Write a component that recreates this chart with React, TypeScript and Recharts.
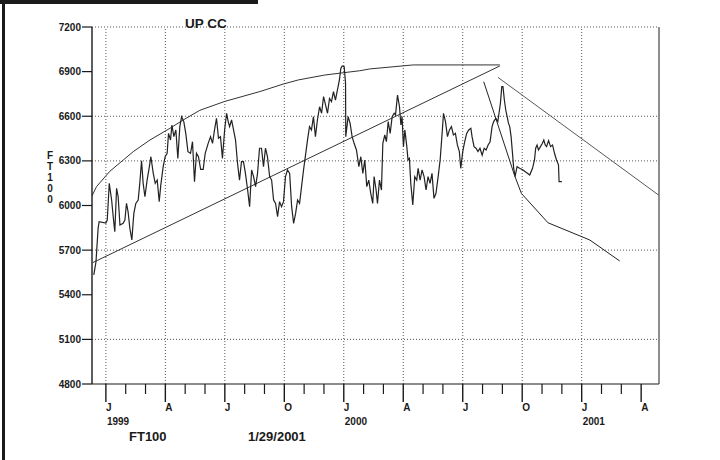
import React from "react";
import {
  LineChart,
  Line,
  XAxis,
  YAxis,
  ReferenceLine,
} from "recharts";

// x = months since Jan 1999, y = FT100 index level
const FT100_SERIES: [number, number][] = [
  [-0.61, 5533], [-0.5, 5620], [-0.39, 5849], [-0.34, 5891], [0, 5882], [0.07, 5902], [0.17, 6149],
  [0.29, 6037], [0.37, 5925], [0.45, 5824], [0.54, 6115], [0.62, 6059], [0.71, 5869], [0.87, 5880],
  [0.96, 5902], [1.04, 6014], [1.12, 5958], [1.21, 5846], [1.31, 5768], [1.41, 5947], [1.51, 6014],
  [1.63, 6037], [1.71, 6149], [1.8, 6301], [1.88, 6149], [1.97, 6059], [2.08, 6171], [2.18, 6250],
  [2.27, 6328], [2.39, 6216], [2.49, 6149], [2.59, 6171], [2.69, 6026], [2.77, 6137], [2.89, 6261],
  [2.99, 6328], [3.09, 6351], [3.16, 6485], [3.26, 6440], [3.33, 6541], [3.43, 6463], [3.53, 6508],
  [3.63, 6317], [3.73, 6530], [3.82, 6597], [3.93, 6564], [4.03, 6485], [4.14, 6362], [4.27, 6351],
  [4.37, 6429], [4.47, 6160], [4.57, 6351], [4.67, 6328], [4.78, 6243], [4.91, 6243], [5.01, 6351],
  [5.16, 6418], [5.28, 6463], [5.38, 6418], [5.48, 6508], [5.58, 6586], [5.68, 6452], [5.78, 6463],
  [5.88, 6317], [5.99, 6508], [6.09, 6620], [6.17, 6564], [6.24, 6530], [6.34, 6575], [6.44, 6508],
  [6.54, 6440], [6.64, 6284], [6.74, 6171], [6.84, 6295], [6.94, 6295], [7.04, 6216], [7.15, 6104],
  [7.25, 5992], [7.35, 6239], [7.45, 6194], [7.55, 6127], [7.65, 6216], [7.75, 6385], [7.85, 6385],
  [7.95, 6261], [8.05, 6385], [8.15, 6328], [8.26, 6194], [8.36, 6171], [8.46, 6037], [8.56, 6014],
  [8.66, 5925], [8.76, 6026], [8.86, 5992], [8.96, 6026], [9.06, 6194], [9.16, 6239], [9.27, 6216],
  [9.37, 5992], [9.47, 5880], [9.57, 5947], [9.67, 6037], [9.77, 6014], [9.87, 6127], [9.97, 6239],
  [10.07, 6339], [10.17, 6440], [10.27, 6530], [10.37, 6508], [10.47, 6597], [10.57, 6463],
  [10.67, 6575], [10.78, 6664], [10.88, 6620], [10.98, 6732], [11.08, 6676], [11.18, 6620],
  [11.28, 6720], [11.38, 6698], [11.48, 6766], [11.58, 6709], [11.68, 6777], [11.78, 6844],
  [11.85, 6922], [11.92, 6938], [12.02, 6933], [12.09, 6821], [12.1, 6463], [12.22, 6597],
  [12.32, 6552], [12.42, 6463], [12.52, 6418], [12.64, 6373], [12.76, 6261], [12.86, 6328],
  [12.96, 6216], [13.06, 6306], [13.16, 6127], [13.26, 6171], [13.36, 6082], [13.46, 6014],
  [13.53, 6194], [13.63, 6104], [13.7, 6014], [13.8, 6171], [13.9, 6104], [13.97, 6418],
  [14.07, 6474], [14.15, 6429], [14.24, 6564], [14.34, 6485], [14.44, 6597], [14.54, 6620],
  [14.61, 6609], [14.71, 6743], [14.81, 6664], [14.88, 6541], [14.94, 6597], [15.01, 6396],
  [15.08, 6508], [15.18, 6396], [15.24, 6306], [15.31, 6317], [15.38, 6149], [15.48, 6003],
  [15.58, 6194], [15.68, 6171], [15.75, 6250], [15.85, 6171], [15.95, 6239], [16.05, 6194],
  [16.15, 6104], [16.25, 6194], [16.35, 6149], [16.45, 6216], [16.55, 6048], [16.65, 6082],
  [16.76, 6194], [16.86, 6306], [16.96, 6485], [17.03, 6620], [17.13, 6564], [17.23, 6463],
  [17.33, 6508], [17.43, 6530], [17.53, 6474], [17.63, 6485], [17.73, 6407], [17.83, 6362],
  [17.9, 6250], [18.0, 6362], [18.1, 6429], [18.2, 6485], [18.3, 6508], [18.41, 6519], [18.47, 6463],
  [18.57, 6396], [18.67, 6385], [18.77, 6362], [18.87, 6385], [18.98, 6339], [19.08, 6385],
  [19.18, 6373], [19.28, 6407], [19.38, 6429], [19.48, 6530], [19.56, 6564], [19.67, 6586],
  [19.77, 6564], [19.83, 6620], [19.9, 6687], [19.97, 6799], [20.03, 6799], [20.1, 6709],
  [20.17, 6642], [20.24, 6597], [20.31, 6552], [20.37, 6530], [20.44, 6463], [20.51, 6351],
  [20.57, 6250], [20.64, 6194], [20.74, 6261], [20.87, 6250], [21.04, 6239], [21.21, 6222],
  [21.38, 6205], [21.52, 6250], [21.62, 6306], [21.68, 6385], [21.75, 6407], [21.82, 6373],
  [21.92, 6396], [22.02, 6418], [22.09, 6440], [22.16, 6407], [22.23, 6396], [22.33, 6436],
  [22.43, 6396], [22.53, 6407], [22.63, 6351], [22.73, 6306], [22.83, 6273], [22.86, 6160],
  [23.0, 6160],
];

// hand drawn trend lines
const RISING_LINE: [number, number][] = [[-0.66, 5616], [19.87, 6938]];
const UPPER_ARC: [number, number][] = [
  [-0.7, 6065], [-0.47, 6127], [0.2, 6230], [0.87, 6305], [1.38, 6362], [2.22, 6440], [3.23, 6519],
  [3.9, 6575], [4.74, 6640], [6.0, 6700], [7.77, 6766], [8.96, 6817], [9.7, 6844], [11.04, 6877],
  [12.81, 6906], [13.31, 6918], [15.5, 6945], [19.87, 6945],
];
const FALLING_LINE: [number, number][] = [[19.78, 6861], [27.88, 6070]];
const DOWN_CURVE: [number, number][] = [
  [19.06, 6832], [20.62, 6200], [20.96, 6081], [22.3, 5884], [24.41, 5768], [25.92, 5627],
];

const Y_TICKS = [4800, 5100, 5400, 5700, 6000, 6300, 6600, 6900, 7200];
const Y_GRID = [7200, 6600, 6300, 5700, 5100];
const MONTH_TICKS = Array.from({ length: 28 }, (_, i) => i);
const QUARTER_LETTERS: Record<number, string> = { 0: "J", 3: "A", 6: "J", 9: "O" };
const X_GRID = [0, 3, 6, 9, 12, 15, 18, 21, 24];

const FONT = '"Liberation Sans", Arial, Helvetica, sans-serif';
const INK = "#1a1a1a";

const toRows = (pts: [number, number][]) => pts.map(([m, v]) => ({ m, v }));

function MonthTick(props: any) {
  const { x, y, payload } = props;
  const m = payload.value as number;
  const q = ((m % 12) + 12) % 12;
  const major = q % 3 === 0;
  return (
    <g>
      <line x1={x} y1={y} x2={x} y2={y + (major ? 18 : 10)} stroke={INK} strokeWidth={major ? 1.4 : 1.2} />
      {major && (
        <text x={x} y={y + 27} fontSize={10} fontWeight="bold" fontFamily={FONT} fill={INK}>
          {QUARTER_LETTERS[q]}
        </text>
      )}
      {q === 0 && (
        <text x={x + 1} y={y + 41} fontSize={10} fontWeight="bold" fontFamily={FONT} fill={INK}>
          {1999 + m / 12}
        </text>
      )}
    </g>
  );
}

export default function App() {
  const tickStyle = { fontSize: 10, fontWeight: "bold", fontFamily: FONT, fill: INK };
  return (
    <div style={{ position: "absolute", left: 0, top: 0, width: 720, height: 460, background: "#fff" }}>
      <LineChart width={720} height={460} margin={{ top: 27, right: 11, bottom: 26, left: 42 }}>
        <XAxis
          dataKey="m"
          type="number"
          domain={[-0.7, 27.9]}
          allowDataOverflow
          ticks={MONTH_TICKS}
          interval={0}
          height={50}
          tickSize={0}
          tickMargin={0}
          tickLine={false}
          tick={<MonthTick />}
          axisLine={{ stroke: INK, strokeWidth: 1.2 }}
        />
        <YAxis
          yAxisId="left"
          orientation="left"
          domain={[4800, 7200]}
          ticks={Y_TICKS}
          interval={0}
          width={50}
          tickSize={10}
          tickMargin={1}
          tick={tickStyle}
          tickLine={{ stroke: INK, strokeWidth: 1.2 }}
          axisLine={{ stroke: INK, strokeWidth: 1.4 }}
        />
        <YAxis
          yAxisId="right"
          orientation="right"
          domain={[4800, 7200]}
          ticks={Y_TICKS}
          interval={0}
          width={50}
          tickSize={10}
          tickMargin={2}
          tick={tickStyle}
          tickLine={{ stroke: "#444", strokeWidth: 1.2 }}
          axisLine={{ stroke: "#444", strokeWidth: 1.2 }}
        />
        {Y_GRID.map((v) => (
          <ReferenceLine key={`h${v}`} yAxisId="left" y={v} stroke="#555" strokeDasharray="1 2" />
        ))}
        {X_GRID.map((m) => (
          <ReferenceLine key={`v${m}`} yAxisId="left" x={m} stroke="#555" strokeDasharray="1 2" />
        ))}
        <Line yAxisId="left" data={toRows(UPPER_ARC)} dataKey="v" type="linear" dot={false} stroke="#333" strokeWidth={1} isAnimationActive={false} />
        <Line yAxisId="left" data={toRows(RISING_LINE)} dataKey="v" type="linear" dot={false} stroke="#333" strokeWidth={1} isAnimationActive={false} />
        <Line yAxisId="left" data={toRows(FALLING_LINE)} dataKey="v" type="linear" dot={false} stroke="#444" strokeWidth={0.9} isAnimationActive={false} />
        <Line yAxisId="left" data={toRows(DOWN_CURVE)} dataKey="v" type="linear" dot={false} stroke="#222" strokeWidth={1} isAnimationActive={false} />
        <Line yAxisId="left" data={toRows(FT100_SERIES)} dataKey="v" type="linear" dot={false} stroke="#222" strokeWidth={1.2} isAnimationActive={false} />
      </LineChart>
      <svg width={720} height={460} style={{ position: "absolute", left: 0, top: 0, pointerEvents: "none" }}>
        <rect x={0} y={0} width={258} height={4} fill={INK} />
        <rect x={2} y={0} width={3} height={460} fill={INK} />
        <text x={185} y={28} fontSize={13.5} fontWeight="bold" fontFamily={FONT} fill={INK}>UP CC</text>
        {["F", "T", "1", "0", "0"].map((c, i) => (
          <text key={i} x={50} y={158.5 + i * 11} textAnchor="middle" fontSize={10} fontWeight="bold" fontFamily={FONT} fill={INK}>
            {c}
          </text>
        ))}
        <text x={129} y={441} fontSize={13} fontWeight="bold" fontFamily={FONT} fill={INK}>FT100</text>
        <text x={248} y={441} fontSize={13} fontWeight="bold" fontFamily={FONT} fill={INK}>1/29/2001</text>
      </svg>
    </div>
  );
}
